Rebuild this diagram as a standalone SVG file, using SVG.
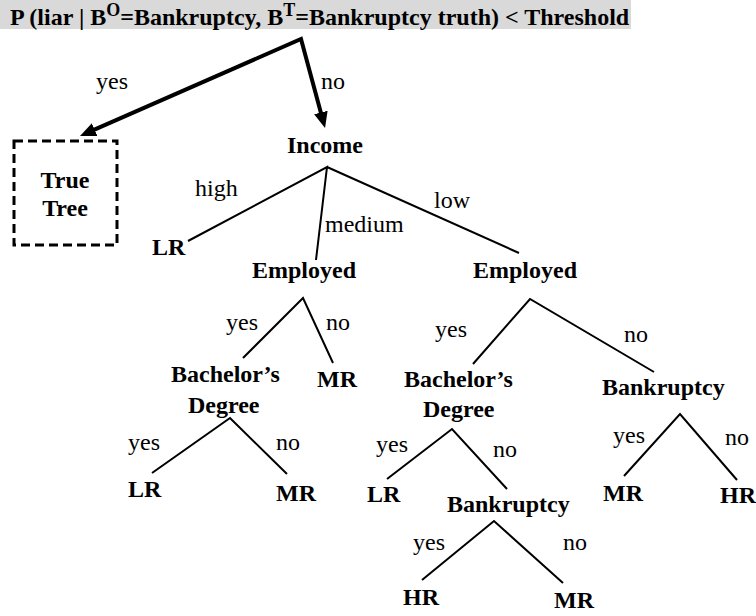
<svg xmlns="http://www.w3.org/2000/svg" width="756" height="616" viewBox="0 0 756 616">
<defs>
<style>
.n{font-family:"Liberation Serif","Times New Roman",serif;font-size:24px;font-weight:bold;fill:#000}
.l{font-family:"Liberation Serif","Times New Roman",serif;font-size:24px;fill:#000}
.e{stroke:#000;stroke-width:2;fill:none}
.a{stroke:#000;stroke-width:4;fill:none;stroke-linejoin:miter}
</style>
<marker id="ah" markerUnits="userSpaceOnUse" viewBox="0 0 16 14" markerWidth="16" markerHeight="14" refX="4" refY="7" orient="auto-start-reverse">
<path d="M0,0 L16,7 L0,14 z" fill="#000"/>
</marker>
</defs>
<rect width="756" height="616" fill="#fff"/>
<g id="title">
<rect x="0" y="0" width="631" height="29" fill="#d9d9d9"/>
<text class="n" x="10" y="25">P (liar | B<tspan font-size="18" dy="-9">O</tspan><tspan dy="9">=Bankruptcy, B</tspan><tspan font-size="18" dy="-9">T</tspan><tspan dy="9">=Bankruptcy truth) &lt; Threshold</tspan></text>
</g>
<g id="connectors">
<path class="a" d="M91,131.2 L301,39 L321.9,116.4" marker-start="url(#ah)" marker-end="url(#ah)"/>
<path class="e" d="M188,241 L327,167 L316,260 M327,167 L519,253"/>
<path class="e" d="M243,358 L303,298 L333,363"/>
<path class="e" d="M473,364 L530,299 L654,372"/>
<path class="e" d="M152,473 L230,418 L287,474"/>
<path class="e" d="M387,479 L452,429 L507,489"/>
<path class="e" d="M624,476 L680,414 L737,480"/>
<path class="e" d="M422,580 L494,521 L563,583"/>
</g>
<g id="labels">
<text class="l" x="96" y="89">yes</text>
<text class="l" x="321" y="89">no</text>
<text class="l" x="195" y="196">high</text>
<text class="l" x="325" y="232">medium</text>
<text class="l" x="434" y="208">low</text>
<text class="l" x="226" y="330">yes</text>
<text class="l" x="326" y="330">no</text>
<text class="l" x="435" y="337">yes</text>
<text class="l" x="624" y="342">no</text>
<text class="l" x="128" y="450">yes</text>
<text class="l" x="276" y="450">no</text>
<text class="l" x="376" y="452">yes</text>
<text class="l" x="493" y="457">no</text>
<text class="l" x="613" y="443">yes</text>
<text class="l" x="725" y="445">no</text>
<text class="l" x="413" y="550">yes</text>
<text class="l" x="563" y="550">no</text>
</g>
<g id="truetree">
<rect x="14" y="141" width="103" height="104" fill="none" stroke="#000" stroke-width="3" stroke-dasharray="9,5"/>
<text class="n" x="65" y="188" text-anchor="middle">True</text>
<text class="n" x="65" y="216" text-anchor="middle">Tree</text>
</g>
<g id="income"><text class="n" x="287" y="153">Income</text></g>
<g id="lr1"><text class="n" x="152" y="255">LR</text></g>
<g id="employed1"><text class="n" x="252" y="278">Employed</text></g>
<g id="employed2"><text class="n" x="473" y="278">Employed</text></g>
<g id="bachelor1"><text class="n" x="171" y="382">Bachelor’s</text><text class="n" x="188" y="413">Degree</text></g>
<g id="mr1"><text class="n" x="317" y="387">MR</text></g>
<g id="bachelor2"><text class="n" x="404" y="387">Bachelor’s</text><text class="n" x="423" y="417">Degree</text></g>
<g id="bankruptcy1"><text class="n" x="602" y="395">Bankruptcy</text></g>
<g id="lr2"><text class="n" x="128" y="497">LR</text></g>
<g id="mr2"><text class="n" x="276" y="501">MR</text></g>
<g id="lr3"><text class="n" x="367" y="502">LR</text></g>
<g id="bankruptcy2"><text class="n" x="447" y="512">Bankruptcy</text></g>
<g id="mr3"><text class="n" x="603" y="501">MR</text></g>
<g id="hr1"><text class="n" x="720" y="503">HR</text></g>
<g id="hr2"><text class="n" x="403" y="605">HR</text></g>
<g id="mr4"><text class="n" x="554" y="608">MR</text></g>
</svg>
